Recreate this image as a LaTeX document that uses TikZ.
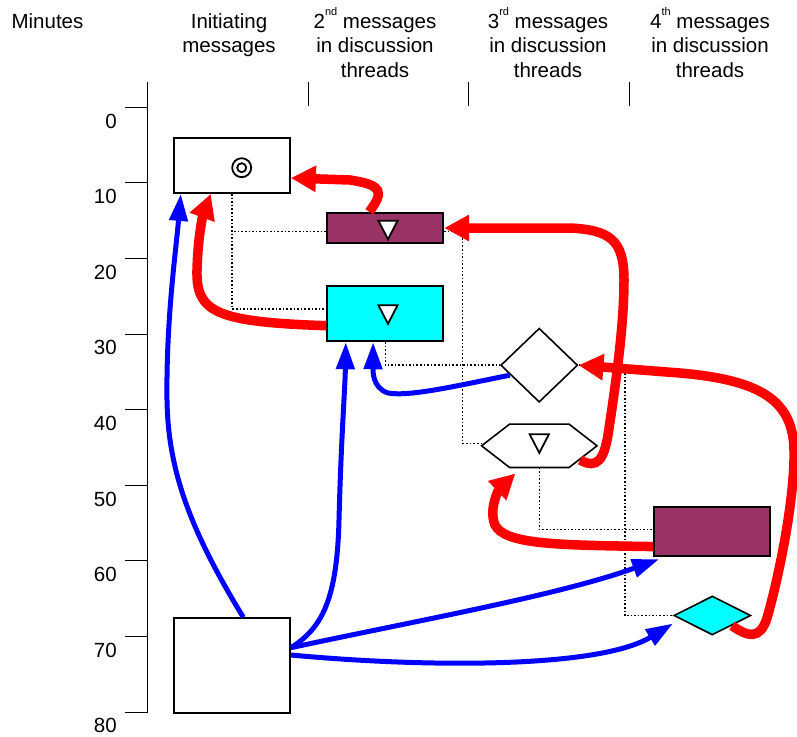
\documentclass[tikz,border=0pt]{standalone}
\usepackage{fontspec}
\setmainfont{Liberation Sans}
\usetikzlibrary{arrows.meta,shapes.geometric}

\definecolor{plum}{HTML}{993366}
\definecolor{aqua}{HTML}{00FFFF}

\newcommand\ordsup[1]{\raisebox{0.62em}{\fontsize{11}{11}\selectfont #1}}

\tikzset{
    msg/.style={draw,line width=1.8pt,minimum width=116pt,inner sep=0pt},
    link/.style={line width=1.6pt,dash pattern=on 1.6pt off 2pt},
    reply/.style={red,line width=9.5pt,-{Triangle[length=25pt,width=25pt]}},
    start/.style={blue,line width=5pt,-{Triangle[length=27pt,width=18pt]}},
    downtri/.pic={\draw[line width=1.8pt,fill=white] (-9.6,-9.3) -- (9.6,-9.3) -- (0,9.3) -- cycle;}
}

\begin{document}
\begin{tikzpicture}[x=1pt,y=-1pt,font=\fontsize{20.5}{24.5}\selectfont]
    \useasboundingbox (0,0) rectangle (797,736);
    % headings (base = last line)
    \node [anchor=base,align=center] (hmin) at (47.5,28) {Minutes};
    \node [anchor=base,align=center] (hinit) at (229,52.5) {Initiating\\messages};
    \node [anchor=base,align=center] (hsec) at (375,77) {2\ordsup{nd} messages\\in discussion\\threads};
    \node [anchor=base,align=center] (hthird) at (548,77) {3\ordsup{rd} messages\\in discussion\\threads};
    \node [anchor=base,align=center] (hfourth) at (710,77) {4\ordsup{th} messages\\in discussion\\threads};
    % time axis
    \draw [line width=1pt] (147.5,82) -- (147.5,712.1);
    \foreach \x in {308,468,629}
        \draw [line width=1pt] (\x,82) -- (\x,106);
    \foreach \m [count=\k from 0] in {0,10,...,80} {
        \draw [line width=1pt] (125,{107.3+75.6*\k}) -- (147.5,{107.3+75.6*\k});
        \node [anchor=base east,inner sep=0pt] (lab\k) at (117,{128+75.6*\k}) {\m};
    }
    % messages
    \node [msg,minimum height=55pt] (init1) at (232,165.5) {};
    \node [msg,minimum height=95pt] (init2) at (232,665.7) {};
    \node [msg,fill=plum,minimum height=30.6pt] (sec1) at (385.3,228) {};
    \node [msg,fill=aqua,minimum height=55.3pt] (sec2) at (385.3,313.7) {};
    \node [diamond,draw,line width=1.6pt,fill=white,inner sep=0pt,
        minimum width=77pt,minimum height=74pt] (third1) at (539.2,365.2) {};
    \node [inner sep=0pt,minimum width=115pt,minimum height=43pt] (third2) at (539.3,445.8) {};
    \draw [line width=1.6pt,fill=white] (third2.west) -- ([xshift=28pt]third2.north west)
        -- ([xshift=-28pt]third2.north east) -- (third2.east)
        -- ([xshift=-28pt]third2.south east) -- ([xshift=28pt]third2.south west) -- cycle;
    \node [msg,fill=plum,minimum width=115.7pt,minimum height=48.7pt] (fourth1) at (712.1,531.6) {};
    \node [diamond,draw,line width=1.6pt,fill=aqua,inner sep=0pt,
        minimum width=77pt,minimum height=39pt] (fourth2) at (712.3,615.5) {};
    % marks
    \coordinate (bull) at (241.7,167.7);
    \draw [line width=1.8pt] (bull) circle [radius=9.5] (bull) circle [radius=4.5];
    \pic at ([xshift=2.7pt,yshift=-2pt]sec1.center) {downtri};
    \pic at ([xshift=2.7pt,yshift=-0.8pt]sec2.center) {downtri};
    \pic at ([yshift=2.2pt]third2.center) {downtri};
    % thread links
    \draw [link] (init1.south) |- ([yshift=-3.3pt]sec1.west);
    \draw [link] (init1.south) |- ([yshift=5pt]sec2.west);
    \draw [link] ([yshift=-3.3pt]sec1.east) -| ([xshift=-19pt,yshift=2.4pt]third2.west) -- ([yshift=2.4pt]third2.west);
    \draw [link] (sec2.south) |- (third1.west);
    \draw [link] (third2.south) |- ([yshift=2.3pt]fourth1.west);
    \draw [link] (third1.east) -| ([xshift=-48.3pt]fourth2.west) -- (fourth2.west);
    % replies
    \draw [reply] ([xshift=-16pt]sec1.north) .. controls (384,192) and (383,185) .. (350,180)
        -- ([yshift=-12.5pt]init1.east);
    \draw [reply] ([yshift=-12pt]sec2.west) .. controls (215,322) and (196,312) .. (197,270)
        .. controls (198,235) and (203,215) .. ([xshift=37.7pt]init1.south west);
    \draw [reply] (580,460) .. controls (598,470) and (604,458) .. (608,435)
        .. controls (614,395) and (624,330) .. (624,280)
        .. controls (624,240) and (610,230) .. (570,228) -- (sec1.east);
    \draw [reply] ([yshift=-15pt]fourth1.west) .. controls (560,545) and (505,545) .. (495,525)
        .. controls (488,508) and (500,488) .. ([xshift=-24pt,yshift=-6pt]third2.south);
    \draw [reply] (fourth2.south east) .. controls (748,637) and (760,640) .. (767,618)
        .. controls (778,580) and (795,500) .. (794,450)
        .. controls (793,400) and (760,380) .. (680,373) -- (third1.east);
    % initiating
    \draw [start] ([xshift=11.3pt]init2.north) .. controls (190,530) and (168,470) .. (167,400)
        .. controls (166,320) and (176,250) .. ([xshift=7.7pt]init1.south west);
    \draw [start] ([yshift=18pt]init2.east) .. controls (322,628) and (337,600) .. (339,520)
        .. controls (341,440) and (345,390) .. ([xshift=19.4pt]sec2.south west);
    \draw [start] ([xshift=10pt,yshift=-10pt]third1.west) .. controls (460,385) and (410,397) .. (388,393)
        .. controls (372,388) and (373,370) .. ([xshift=46.7pt]sec2.south west);
    \draw [start] ([yshift=18pt]init2.east) .. controls (420,620) and (560,595)
        .. ([xshift=5.7pt,yshift=-2.3pt]fourth1.south west);
    \draw [start] ([yshift=10.7pt]init2.east) .. controls (430,668) and (600,668)
        .. ([yshift=-8pt]fourth2.west);
\end{tikzpicture}
\end{document}
